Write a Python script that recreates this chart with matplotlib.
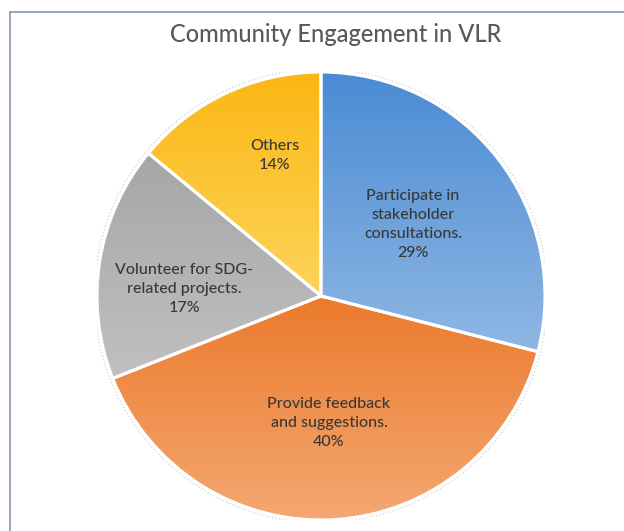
import numpy as np
import matplotlib
matplotlib.use("Agg")
import matplotlib.pyplot as plt
from matplotlib.colors import LinearSegmentedColormap
from matplotlib.lines import Line2D

plt.rcParams['font.family'] = ['Lato', 'DejaVu Sans']

title = "Community Engagement in VLR"
categories = ["Participate in\nstakeholder\nconsultations.",
              "Provide feedback\nand suggestions.",
              "Volunteer for SDG-\nrelated projects.",
              "Others"]
values = [29, 40, 17, 14]

top_colors = ["#4a8bd4", "#ec7a2c", "#a6a6a6", "#fbb714"]
bottom_colors = ["#8fb7e3", "#f4a872", "#c0c0c0", "#fdd45a"]
label_dist = [0.52, 0.57, 0.61, 0.66]
label_angle_shift = [0, 0, 6, -7]

W, H = 624, 531
fig = plt.figure(figsize=(W / 100, H / 100), dpi=100)

cx, cy, r = 321, 296, 224
ax = fig.add_axes([(cx - r) / W, (H - cy - r) / H, 2 * r / W, 2 * r / H])
ax.set_xlim(-1, 1)
ax.set_ylim(-1, 1)
ax.axis('off')

# soft shadow ring
shadow = plt.Circle((0, 0), 1.012, facecolor='none', edgecolor='#d9d9d9',
                    linewidth=1.0, linestyle=(0, (1, 1.5)), zorder=1)
ax.add_patch(shadow)

wedges, _ = ax.pie(values, startangle=90, counterclock=False, radius=1,
                   colors=top_colors,
                   wedgeprops=dict(edgecolor='white', linewidth=2.2),
                   frame=False)
ax.set_aspect('auto')

grad = np.linspace(0, 1, 256).reshape(-1, 1)
for w, ct, cb in zip(wedges, top_colors, bottom_colors):
    verts = w.get_path().vertices
    xmin, ymin = verts.min(axis=0)
    xmax, ymax = verts.max(axis=0)
    cmap = LinearSegmentedColormap.from_list('g', [ct, cb])
    im = ax.imshow(grad, cmap=cmap, extent=(xmin, xmax, ymin, ymax),
                   origin='upper', aspect='auto', zorder=2,
                   interpolation='bilinear')
    im.set_clip_path(w)
    w.set_facecolor('none')
    w.set_zorder(3)

ax.set_xlim(-1, 1)
ax.set_ylim(-1, 1)

for i, (w, cat, v) in enumerate(zip(wedges, categories, values)):
    mid = np.deg2rad((w.theta1 + w.theta2) / 2 + label_angle_shift[i])
    d = label_dist[i]
    ax.text(d * np.cos(mid), d * np.sin(mid), f"{cat}\n{v}%",
            ha='center', va='center', fontsize=11.5, color='#383838',
            fontweight='medium', linespacing=1.45, zorder=5)

fig.text(336 / W, 1 - 35 / H, title, ha='center', va='center',
         fontsize=17, color='#595959', fontweight='medium')

# chart border (left and top visible)
fig.add_artist(Line2D([10 / W, 10 / W], [0, 1 - 12 / H],
                      transform=fig.transFigure, color='#8497b0', linewidth=1.2))
fig.add_artist(Line2D([10 / W, 1], [1 - 12 / H, 1 - 12 / H],
                      transform=fig.transFigure, color='#8497b0', linewidth=1.2))

fig.savefig("out.png", dpi=100, facecolor='white')
